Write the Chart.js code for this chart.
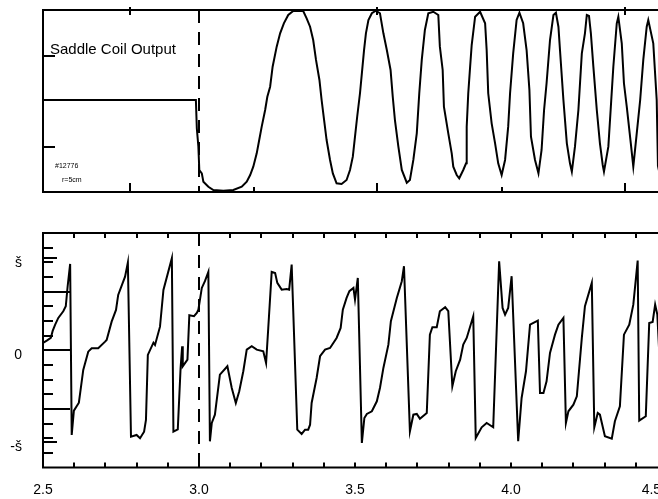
<!DOCTYPE html>
<html>
<head>
<meta charset="utf-8">
<script src="https://cdn.jsdelivr.net/npm/chart.js@4.4.1/dist/chart.umd.min.js"></script>
<style>
  html, body { margin: 0; padding: 0; background: #fff; overflow: hidden; width: 658px; height: 499px; }
  canvas { position: absolute; left: 0; }
  #coil { top: 0; }
  #phase { top: 220px; }
</style>
</head>
<body>
<canvas id="coil" width="700" height="205"></canvas>
<canvas id="phase" width="700" height="279"></canvas>
<script>
// Saddle coil signal: [time, normalised amplitude]
const coilSamples = [
  [2.500,0.01],[2.990,0.01],[2.993,-0.300],[2.998,-0.502],[3.001,-0.758],[3.009,-0.795],[3.014,-0.887],[3.030,-0.942],
  [3.046,-0.978],[3.078,-0.986],[3.110,-0.978],[3.137,-0.942],[3.153,-0.887],[3.164,-0.813],[3.174,-0.722],[3.185,-0.575],
  [3.193,-0.429],[3.201,-0.282],[3.212,-0.099],[3.219,0.047],[3.228,0.157],[3.236,0.377],[3.249,0.597],[3.260,0.744],
  [3.272,0.854],[3.286,0.945],[3.302,0.989],[3.334,0.989],
  [3.345,0.909],[3.356,0.816],[3.366,0.670],[3.375,0.451],[3.386,0.231],[3.393,0.011],[3.401,-0.209],[3.409,-0.429],
  [3.420,-0.648],[3.429,-0.795],[3.441,-0.904],[3.457,-0.912],[3.473,-0.868],[3.484,-0.758],[3.493,-0.612],[3.500,-0.392],
  [3.507,-0.173],[3.516,0.085],[3.522,0.304],[3.529,0.560],[3.535,0.744],[3.543,0.890],[3.554,0.964],[3.567,0.992],
  [3.580,0.964],[3.591,0.744],[3.602,0.560],[3.614,0.341],[3.621,0.047],[3.628,-0.209],[3.639,-0.502],[3.650,-0.758],
  [3.666,-0.898],[3.676,-0.868],[3.687,-0.648],[3.698,-0.355],[3.706,0.085],[3.714,0.451],[3.724,0.780],[3.735,0.964],[3.751,0.981],
  [3.767,0.945],[3.772,0.597],[3.781,0.341],[3.785,-0.063],[3.799,-0.355],[3.810,-0.575],[3.815,-0.722],[3.826,-0.813],
  [3.834,-0.849],[3.847,-0.758],[3.856,-0.685],[3.858,-0.282],[3.863,0.085],[3.869,0.377],[3.874,0.615],[3.885,0.926],[3.901,0.981],
  [3.917,0.854],[3.922,0.560],[3.927,0.085],[3.938,-0.245],[3.949,-0.465],[3.959,-0.685],[3.970,-0.813],[3.981,-0.648],
  [3.991,-0.282],[3.997,0.085],[4.007,0.524],[4.018,0.890],[4.027,0.970],
  [4.039,0.854],[4.050,0.560],[4.059,0.121],[4.064,-0.392],[4.077,-0.648],[4.088,-0.795],[4.098,-0.538],[4.106,-0.099],
  [4.114,0.195],[4.125,0.670],[4.136,0.945],[4.144,0.970],
  [4.152,0.816],[4.157,0.560],[4.168,0.011],[4.179,-0.465],[4.189,-0.685],[4.195,-0.777],[4.205,-0.502],[4.216,-0.099],
  [4.227,0.524],[4.237,0.744],[4.243,0.945],[4.250,0.934],
  [4.256,0.744],[4.264,0.377],[4.275,-0.099],[4.285,-0.465],[4.294,-0.703],[4.298,-0.777],[4.312,-0.502],[4.320,-0.063],
  [4.328,0.377],[4.339,0.854],[4.344,0.926],
  [4.355,0.634],[4.362,0.195],[4.371,-0.063],[4.384,-0.465],[4.392,-0.722],[4.403,-0.355],[4.414,0.011],[4.424,0.451],
  [4.435,0.816],[4.440,0.890],
  [4.456,0.634],[4.467,0.011],[4.471,-0.714],[4.484,-0.920]
];

// Mode phase: [time, phase in radians]
const phaseSamples = [
  [2.500,0.250],[2.512,0.328],[2.525,0.420],[2.531,0.659],[2.539,0.874],[2.549,1.102],[2.565,1.331],[2.573,1.502],[2.579,2.184],[2.587,2.945],
  [2.592,-2.891],[2.599,-2.061],[2.615,-1.788],[2.629,-0.672],[2.645,-0.048],[2.656,0.068],[2.677,0.068],[2.699,0.294],[2.704,0.352],
  [2.720,0.976],[2.734,1.375],[2.741,1.887],[2.763,2.512],[2.772,2.990],
  [2.782,-2.949],[2.800,-2.891],[2.811,-3.003],[2.824,-2.778],[2.830,-2.379],[2.836,-0.160],[2.854,0.259],[2.859,0.181],[2.875,0.805],
  [2.886,2.058],[2.913,3.140],
  [2.918,-2.778],[2.932,-2.696],[2.941,-0.604],[2.946,0.137],[2.948,-0.546],[2.963,-0.321],[2.969,1.195],[2.984,1.160],[2.993,1.273],
  [2.998,1.386],[3.009,2.126],[3.019,2.355],[3.030,2.672],
  [3.035,-3.106],[3.041,-2.481],[3.051,-2.198],[3.067,-0.833],[3.091,-0.546],[3.105,-1.287],[3.118,-1.799],[3.129,-1.399],
  [3.142,-0.717],[3.153,0.020],[3.169,0.137],[3.185,0.020],[3.206,-0.034],[3.215,-0.433],[3.222,0.761],[3.233,2.672],[3.244,2.638],
  [3.251,2.297],[3.265,2.068],[3.281,2.092],[3.289,2.068],[3.297,2.922],
  [3.315,-2.710],[3.329,-2.857],[3.340,-2.710],[3.350,-2.710],[3.356,-2.539],[3.361,-1.799],[3.377,-0.945],[3.388,-0.205],[3.404,0.020],
  [3.420,0.078],[3.441,0.420],[3.454,0.761],[3.461,1.386],[3.473,1.785],[3.482,2.014],[3.495,2.126],[3.500,1.727],[3.509,2.468],
  [3.522,-3.164],[3.530,-2.311],[3.538,-2.174],[3.554,-2.082],[3.570,-1.741],[3.580,-1.287],[3.591,-0.604],[3.607,0.191],[3.615,0.990],
  [3.634,1.785],[3.650,2.355],[3.657,2.867],
  [3.676,-2.765],[3.687,-2.198],[3.698,-2.174],[3.708,-2.334],[3.730,-2.140],[3.740,0.532],[3.748,0.785],[3.762,0.785],[3.772,1.331],
  [3.789,1.468],[3.799,1.331],[3.812,-1.229],[3.823,-0.717],[3.837,-0.321],[3.847,0.191],[3.858,0.420],[3.879,1.160],
  [3.887,-2.993],[3.906,-2.628],[3.922,-2.481],[3.943,-2.628],[3.962,3.038],[3.973,1.444],[3.981,1.215],[3.991,1.444],[4.002,2.526],
  [4.023,-3.106],[4.034,-1.628],[4.048,-0.717],[4.061,0.874],[4.086,1.010],[4.093,-1.457],[4.104,-1.457],[4.114,-1.058],[4.125,-0.092],
  [4.141,0.532],[4.152,0.874],[4.168,1.102],
  [4.176,-2.481],[4.184,-2.082],[4.200,-1.857],[4.211,-1.570],[4.227,0.420],[4.237,1.502],[4.259,2.297],
  [4.267,-2.628],[4.278,-2.140],[4.285,-2.198],[4.301,-2.935],[4.323,-3.017],[4.333,-2.423],[4.349,-1.911],[4.362,0.532],[4.379,0.874],
  [4.392,1.556],[4.406,3.058],
  [4.411,-2.403],[4.432,-2.253],[4.443,0.932],[4.454,0.966],[4.462,1.556],[4.469,1.215],[4.478,-0.670]
];

// Axis ticks and labels
const timeLabelTicks = [2.5, 3.0, 3.5, 4.0, 4.5];
const timeTickLabels = ['2.5', '3.0', '3.5', '4.0', '4.5\u2007\u2007\u2007\u2007'];
const timeMinorTicks = [2.6, 2.7, 2.8, 2.9, 3.0, 3.1, 3.2, 3.3, 3.4, 3.5, 3.6, 3.7, 3.8, 3.9, 4.0, 4.1, 4.2, 4.3, 4.4];
const coilMajorTimes = [2.78, 3.57, 4.365];
const coilMinorTimes = [3.175, 3.97];
const coilLevelTicks = [-0.5, 0.5];
const phaseLabelTicks = [-Math.PI, 0, Math.PI];
const phaseTickLabels = ['-š', '0', 'š'];
const phaseHalfRadTicks = [-3.5, -3, -2.5, -2, -1.5, -1, -0.5, 0.5, 1, 1.5, 2, 2.5, 3, 3.5];
const phaseLongTicks = [-2, 0, 2];
const triggerTime = 3.0;

const FONT = '"Liberation Sans", Arial, Helvetica, sans-serif';

// Draws the frame, inward tick marks, trigger line and notes.
const framePlugin = {
  id: 'frame',
  afterDatasetsDraw(chart, args, opts) {
    const { ctx, chartArea: a, scales: { x, y } } = chart;
    ctx.save();
    ctx.strokeStyle = '#000';
    ctx.lineWidth = 2;
    ctx.lineCap = 'butt';
    const seg = (x0, y0, x1, y1) => { ctx.beginPath(); ctx.moveTo(x0, y0); ctx.lineTo(x1, y1); ctx.stroke(); };

    // trigger marker
    ctx.setLineDash(opts.dash);
    const mx = Math.round(x.getPixelForValue(opts.marker));
    seg(mx, a.top, mx, a.bottom);
    ctx.setLineDash([]);

    // frame
    ctx.strokeRect(a.left, a.top, a.right - a.left, a.bottom - a.top);

    (opts.topTicks || []).forEach(g => g.values.forEach(v => {
      const px = Math.round(x.getPixelForValue(v));
      seg(px, a.top - g.out, px, a.top + g.len);
    }));
    (opts.bottomTicks || []).forEach(g => g.values.forEach(v => {
      const px = Math.round(x.getPixelForValue(v));
      seg(px, a.bottom, px, a.bottom - g.len);
    }));
    (opts.leftTicks || []).forEach(g => g.values.forEach(v => {
      const py = Math.round(y.getPixelForValue(v));
      seg(a.left, py, a.left + g.len, py);
    }));

    ctx.fillStyle = '#000';
    ctx.textBaseline = 'alphabetic';
    ctx.textAlign = 'left';
    (opts.notes || []).forEach(n => {
      ctx.font = n.size + 'px ' + FONT;
      ctx.fillText(n.text, n.x, n.y);
    });
    ctx.restore();
  }
};

const toPoints = arr => arr.map(([t, v]) => ({ x: t, y: v }));
const traceStyle = { borderColor: '#000', borderWidth: 2, pointRadius: 0, tension: 0, fill: false };

new Chart(document.getElementById('coil'), {
  type: 'line',
  data: { datasets: [{ data: toPoints(coilSamples), ...traceStyle }] },
  options: {
    responsive: false,
    animation: false,
    events: [],
    layout: { padding: { left: 43, top: 10, right: 33, bottom: 13 } },
    plugins: {
      legend: { display: false },
      tooltip: { enabled: false },
      frame: {
        marker: triggerTime,
        dash: [13, 9],
        topTicks: [{ values: coilMajorTimes, out: 3, len: 5 }],
        bottomTicks: [{ values: coilMajorTimes, len: 9 }, { values: coilMinorTimes, len: 5 }],
        leftTicks: [{ values: coilLevelTicks, len: 12 }],
        notes: [
          { text: 'Saddle Coil Output', x: 50, y: 54, size: 15 },
          { text: '#12776', x: 55, y: 167.5, size: 7 },
          { text: 'r=5cm', x: 62, y: 181.5, size: 7 }
        ]
      }
    },
    scales: {
      x: { type: 'linear', min: 2.5, max: 4.5, display: false },
      y: { type: 'linear', min: -1, max: 1, display: false }
    }
  },
  plugins: [framePlugin]
});

new Chart(document.getElementById('phase'), {
  type: 'line',
  data: { datasets: [{ data: toPoints(phaseSamples), ...traceStyle }] },
  options: {
    responsive: false,
    animation: false,
    events: [],
    layout: { padding: { left: 0, top: 13, right: 33, bottom: 0 } },
    plugins: {
      legend: { display: false },
      tooltip: { enabled: false },
      frame: {
        marker: triggerTime,
        dash: [13, 9],
        topTicks: [{ values: timeMinorTicks, out: 0, len: 5 }],
        bottomTicks: [{ values: timeMinorTicks, len: 5 }],
        leftTicks: [
          { values: phaseHalfRadTicks, len: 10 },
          { values: [phaseLabelTicks[0], phaseLabelTicks[2]], len: 14 },
          { values: phaseLongTicks, len: 27 }
        ]
      }
    },
    scales: {
      x: {
        type: 'linear', min: 2.5, max: 4.5, position: 'bottom',
        grid: { display: false, drawTicks: false },
        border: { display: false },
        afterFit: s => { s.height = 31.5; s.paddingLeft = 0; s.paddingRight = 0; },
        afterBuildTicks: s => { s.ticks = timeLabelTicks.map(v => ({ value: v })); },
        ticks: {
          autoSkip: false, maxRotation: 0, padding: 14, color: '#000',
          font: { family: FONT, size: 14 },
          callback: (v, i) => timeTickLabels[i]
        }
      },
      y: {
        type: 'linear', min: -4, max: 4, position: 'left',
        grid: { display: false, drawTicks: false },
        border: { display: false },
        afterFit: s => { s.width = 43; s.paddingTop = 0; s.paddingBottom = 0; },
        afterBuildTicks: s => { s.ticks = phaseLabelTicks.map(v => ({ value: v })); },
        ticks: {
          autoSkip: false, padding: 21, labelOffset: 5, color: '#000',
          font: { family: FONT, size: 14 },
          callback: (v, i) => phaseTickLabels[i]
        }
      }
    }
  },
  plugins: [framePlugin]
});
</script>
</body>
</html>
